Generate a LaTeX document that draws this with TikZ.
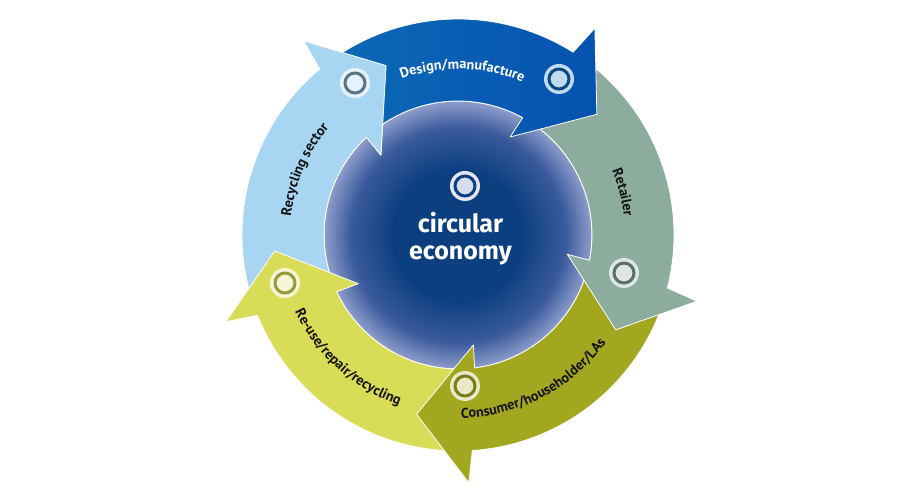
\documentclass[tikz,border=0pt]{standalone}
\usepackage{fontspec}
\setmainfont{PT Sans}
\newfontfamily\econfont{Fira Sans}
\usetikzlibrary{decorations.text}
\definecolor{CycBlue}{HTML}{0B6AB6}
\definecolor{CycBlueDeep}{HTML}{0652B0}
\definecolor{CycRetail}{HTML}{8CAD9E}
\definecolor{CycConsumer}{HTML}{A3A71F}
\definecolor{CycReuse}{HTML}{D9DC57}
\definecolor{CycRecycle}{HTML}{A8D5F1}
\definecolor{EconDark}{HTML}{0B3F80}
\definecolor{EconMid}{HTML}{3A5A9C}
\definecolor{EconEdge}{HTML}{8E9DCB}
\pgfdeclareradialshading{econshade}{\pgfpoint{0bp}{0bp}}{color(0bp)=(EconDark); color(12bp)=(EconDark); color(20bp)=(EconMid); color(25bp)=(EconEdge); color(50bp)=(EconEdge)}
% one arrow of the cycle, drawn for the top position
\newcommand{\cyclearrow}{(128:216pt) arc[start angle=128, end angle=57.8, radius=216pt] -- (56.5:248pt) -- (41:184pt) -- (62:111pt) -- (61.1:134pt) arc[start angle=61.1, end angle=128, radius=134pt] -- cycle}
\newcommand{\labelfont}{\fontsize{14.2}{16}\selectfont\bfseries}
\tikzset{
  arrowpart/.style={draw=white, line width=0.8pt, line join=round},
  ringlabel/.style={decorate, decoration={text along path, text align=center, text color=#1}},
  ringlabel/.default=black!92,
  targetout/.style={circle, inner sep=0pt, minimum size=30pt, fill=#1},
  targetin/.style={circle, inner sep=0pt, minimum size=20pt, line width=3pt}
}
\begin{document}
\begin{tikzpicture}
\fill[white] (-458pt,-265pt) rectangle (462pt,235pt);
\useasboundingbox (-458pt,-265pt) rectangle (462pt,235pt);

% centre disc
\path[shading=econshade, draw=white, line width=1pt] (0,0) circle[radius=134pt];

% arrows, each head over the next tail
\begin{scope}[rotate=72]
  \draw[arrowpart, fill=CycRecycle] \cyclearrow;
\end{scope}
\begin{scope}[rotate=144]
  \draw[arrowpart, fill=CycReuse] \cyclearrow;
\end{scope}
\begin{scope}[rotate=-144]
  \draw[arrowpart, fill=CycConsumer] \cyclearrow;
\end{scope}
\begin{scope}[rotate=-72]
  \draw[arrowpart, fill=CycRetail] \cyclearrow;
\end{scope}
\draw[arrowpart, left color=CycBlue, right color=CycBlueDeep] \cyclearrow;
\begin{scope}
  \clip (0,0) -- (95:300pt) arc[start angle=95, end angle=150, radius=300pt] -- cycle;
  \begin{scope}[rotate=72]
    \draw[arrowpart, fill=CycRecycle] \cyclearrow;
  \end{scope}
\end{scope}

% labels along the ring
\path[ringlabel=white, decoration={text={|\labelfont|Design/manufacture}}] (118:166pt) arc[start angle=118, end angle=59, radius=166pt];
\path[ringlabel, decoration={text={|\labelfont|Retailer}}] (44:167pt) arc[start angle=44, end angle=-15, radius=167pt];
\path[ringlabel, decoration={text={|\labelfont|Consumer/householder/LAs}}] (-100:183pt) arc[start angle=-100, end angle=-25, radius=183pt];
\path[ringlabel, decoration={text={|\labelfont|Re-use/repair/recycling}}] (-170:180pt) arc[start angle=-170, end angle=-94, radius=180pt];
\path[ringlabel, decoration={text={|\labelfont|Recycling sector}}] (190:168pt) arc[start angle=190, end angle=124, radius=168pt];

% targets
\node (tgtDesign) [targetout=CycBlue!25!white] at (101pt,156pt) {};
\node [targetin, fill=CycBlue!25!white, draw=CycBlue!70!black] at (tgtDesign) {};
\node (tgtRecycle) [targetout=CycRecycle!30!white] at (-103pt,152pt) {};
\node [targetin, fill=CycRecycle!30!white, draw=CycRecycle!55!black] at (tgtRecycle) {};
\node (tgtRetail) [targetout=CycRetail!30!white] at (166pt,-38pt) {};
\node [targetin, fill=CycRetail!30!white, draw=CycRetail!65!black] at (tgtRetail) {};
\node (tgtConsumer) [targetout=CycConsumer!25!white] at (7pt,-151pt) {};
\node [targetin, fill=CycConsumer!25!white, draw=CycConsumer!75!black] at (tgtConsumer) {};
\node (tgtReuse) [targetout=CycReuse!25!white] at (-173pt,-48pt) {};
\node [targetin, fill=CycReuse!25!white, draw=CycReuse!70!black] at (tgtReuse) {};
\node (tgtEcon) [targetout=EconEdge!25!white] at (7pt,49pt) {};
\node [targetin, fill=EconEdge!35!white, draw=EconDark] at (tgtEcon) {};

% centre text
\node (econA) [anchor=base, text=white, font=\econfont\fontsize{25}{28}\selectfont\bfseries, inner sep=0pt] at (2.5pt,2pt) {circular};
\node (econB) [anchor=base, text=white, font=\econfont\fontsize{25}{28}\selectfont\bfseries, inner sep=0pt] at (2.5pt,-25pt) {economy};
\end{tikzpicture}
\end{document}
